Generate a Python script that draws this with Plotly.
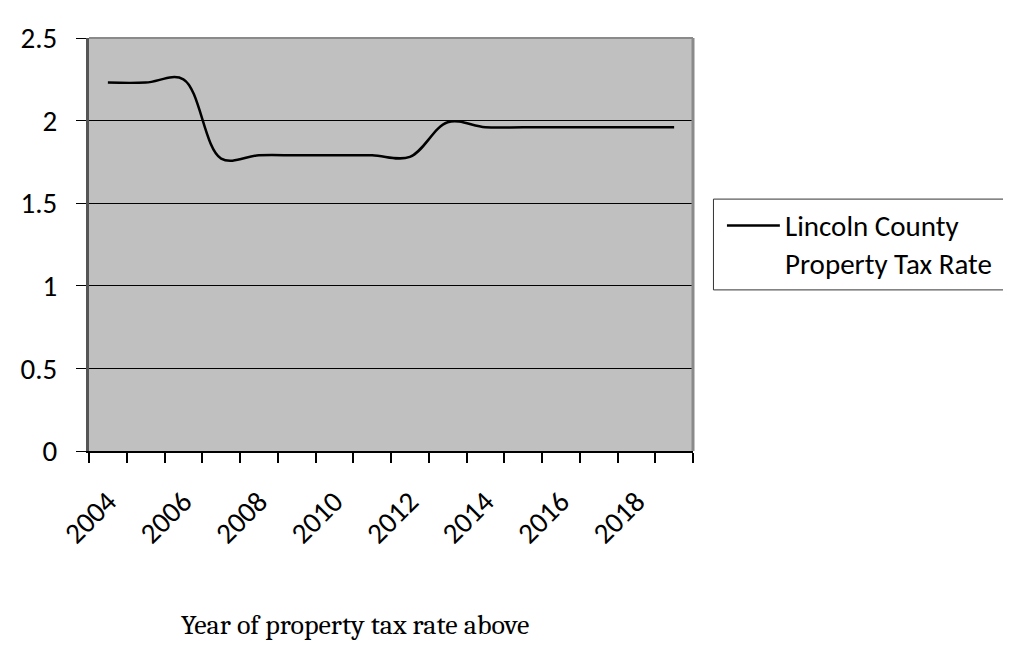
import plotly.graph_objects as go

years = list(range(2004, 2020))
rates = [2.23, 2.23, 2.25, 1.77, 1.79, 1.79, 1.79, 1.79, 1.78, 1.99, 1.96, 1.96, 1.96, 1.96, 1.96, 1.96]
series_name = "Lincoln County<br>Property Tax Rate"
x_tick_vals = [2004, 2006, 2008, 2010, 2012, 2014, 2016, 2018]
y_tick_vals = [0, 0.5, 1, 1.5, 2, 2.5]
x_title = "Year of property tax rate above"

W, H = 1011, 645
L, R, T, B = 80, 685, 20, 443
pw, ph = R - L, B - T

def px(x):
    return (x - L) / pw

def py(y):
    return (B - y) / ph

fig = go.Figure()
fig.add_trace(go.Scatter(
    x=years, y=rates, mode="lines", name=series_name,
    line=dict(color="black", width=2.5, shape="spline", smoothing=1.0),
    showlegend=False,
))

sans = "Carlito, Lato, 'Open Sans', sans-serif"
tickfont = dict(family=sans, size=29, color="black")

fig.update_layout(
    width=W, height=H,
    margin=dict(l=L, r=W - R, t=T, b=H - B, pad=0),
    paper_bgcolor="white", plot_bgcolor="#C0C0C0",
    xaxis=dict(
        range=[2003.5, 2019.5], tickmode="array", tickvals=x_tick_vals,
        ticktext=[str(v) for v in x_tick_vals], tickangle=-45,
        ticks="", tickfont=tickfont, showgrid=False, zeroline=False,
        showline=True, linecolor="black", linewidth=2,
        minor=dict(ticks="outside", tick0=2003.5, dtick=1, ticklen=10,
                   tickcolor="black", tickwidth=1.5, showgrid=False),
        ticklabelstandoff=20,
    ),
    yaxis=dict(
        range=[0, 2.5], tickmode="array", tickvals=y_tick_vals,
        ticktext=["0", "0.5", "1", "1.5", "2", "2.5"],
        ticks="outside", ticklen=10, tickcolor="black", tickwidth=1,
        tickfont=tickfont, showgrid=True, gridcolor="black", gridwidth=1,
        zeroline=False, showline=True, linecolor="#555555", linewidth=3,
        ticklabelstandoff=13,
    ),
)

# plot border (right/top gray)
fig.add_shape(type="line", xref="paper", yref="paper", x0=1, x1=1, y0=0, y1=1,
              line=dict(color="#8a8a8a", width=3))
fig.add_shape(type="line", xref="paper", yref="paper", x0=0, x1=1, y0=1, y1=1,
              line=dict(color="#8a8a8a", width=2))

# legend box drawn manually
fig.add_shape(type="rect", xref="paper", yref="paper",
              x0=px(705.5), x1=px(1020), y0=py(278), y1=py(185),
              line=dict(color="#333333", width=1), fillcolor="white")
fig.add_shape(type="line", xref="paper", yref="paper",
              x0=px(719), x1=px(772), y0=py(212), y1=py(212),
              line=dict(color="black", width=2.5))
fig.add_annotation(xref="paper", yref="paper", x=px(775), y=py(231.5),
                   xanchor="left", yanchor="middle", showarrow=False, align="left",
                   text=series_name,
                   font=dict(family=sans, size=29, color="black"))

fig.add_annotation(xref="paper", yref="paper", x=px(346), y=py(621),
                   xanchor="center", yanchor="middle", showarrow=False,
                   text=x_title,
                   font=dict(family="Caladea, Gelasio, 'DejaVu Serif', serif", size=28, color="black"))

fig.write_html("out.html")
